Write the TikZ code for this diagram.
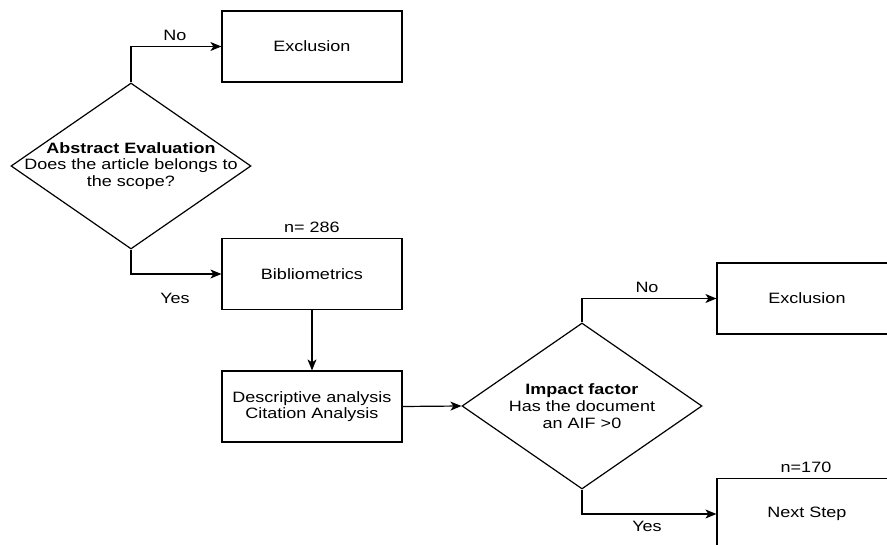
\documentclass[tikz,border=0pt]{standalone}
\usepackage{fontspec}
\setmainfont{Liberation Sans}[FakeStretch=1.2]
\usetikzlibrary{shapes.geometric,arrows.meta}
\begin{document}
\begin{tikzpicture}[x=1pt,y=-1pt,
  every node/.style={font=\fontsize{15}{16.7}\selectfont, text=black},
  procbox/.style={draw, line width=1.2pt, rectangle, minimum width=180pt, minimum height=71pt, inner sep=0pt, align=center},
  decision/.style={draw, line width=1.2pt, diamond, minimum width=240pt, minimum height=166pt, inner sep=0pt},
  question/.style={inner sep=0pt, align=center},
  flow/.style={line width=1.2pt, -{Stealth[length=11pt,width=9pt,inset=3pt]}},
  tag/.style={inner sep=0pt}
]
\clip (0,0) rectangle (887,545);
\fill[white] (0,0) rectangle (887,545);

% first screening stage
\node[procbox] (ex1) at (312,46.5) {Exclusion};
\node[decision] (d1) at (131,166) {};
\node[question] (q1) at (d1.center) {\textbf{Abstract Evaluation}\\Does the article belongs to\\the scope?};
\node[procbox] (bib) at (312,274) {Bibliometrics};
\node[procbox] (desc) at (312,406.5) {Descriptive analysis\\Citation Analysis};

% second screening stage
\node[decision] (d2) at (582,406) {};
\node[question] (q2) at (d2.center) {\textbf{Impact factor}\\Has the document\\an AIF >0};
\node[procbox] (ex2) at (807,298.5) {Exclusion};
\node[procbox] (nxt) at (807,514) {Next Step};

% connectors
\draw[flow] (d1.north) |- (ex1.west);
\draw[flow] (d1.south) |- (bib.west);
\draw[flow] (bib.south) -- (desc.north);
\draw[flow] (desc.east) -- (d2.west);
\draw[flow] (d2.north) |- (ex2.west);
\draw[flow] (d2.south) |- (nxt.west);

% labels
\node[tag] (no1) at (175,35) {No};
\node[tag] (yes1) at (175,298) {Yes};
\node[tag] (n1) at (312,227) {n= 286};
\node[tag] (no2) at (647,287) {No};
\node[tag] (yes2) at (647,526) {Yes};
\node[tag] (n2) at (806,467) {n=170};
\end{tikzpicture}
\end{document}
